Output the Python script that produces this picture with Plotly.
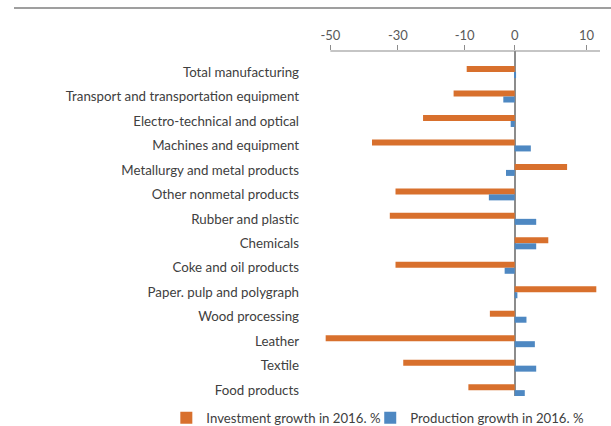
import plotly.graph_objects as go

categories = [
    "Total manufacturing",
    "Transport and transportation equipment",
    "Electro-technical and optical",
    "Machines and equipment",
    "Metallurgy and metal products",
    "Other nonmetal products",
    "Rubber and plastic",
    "Chemicals",
    "Coke and oil products",
    "Paper. pulp and polygraph",
    "Wood processing",
    "Leather",
    "Textile",
    "Food products",
]
investment = [-14.3, -18.2, -27.3, -42.5, 15.6, -35.5, -37.2, 10.0, -35.5, 24.3, -7.4, -56.3, -33.2, -13.8]
production = [0.4, -3.4, -1.2, 4.8, -2.6, -7.7, 6.4, 6.4, -3.0, 0.8, 3.5, 6.0, 6.4, 3.0]

tick_vals = [-54.9, -34.8, -14.9, 0, 21.4]
tick_text = ["-50", "-30", "-10", "0", "10"]

FONT = "Lato"
ORANGE = "#D8702D"
BLUE = "#4E88C2"

fig = go.Figure()
fig.add_trace(go.Bar(y=categories, x=investment, orientation="h", name="Investment growth in 2016. %",
                     marker=dict(color=ORANGE, line=dict(width=0)), legend="legend", showlegend=True))
fig.add_trace(go.Bar(y=categories, x=production, orientation="h", name="Production growth in 2016. %",
                     marker=dict(color=BLUE, line=dict(width=0)), legend="legend2", showlegend=True))

legend_common = dict(orientation="h", xanchor="left", y=-0.064, yanchor="middle",
                     font=dict(size=13.2, color="#404040"), itemwidth=30,
                     bgcolor="rgba(0,0,0,0)")

fig.update_layout(
    width=611, height=426,
    showlegend=True,
    margin=dict(l=325, r=11, t=51, b=30, autoexpand=False),
    paper_bgcolor="white", plot_bgcolor="white",
    barmode="group", bargap=0.51, bargroupgap=0,
    font=dict(family=FONT, size=13, color="#404040"),
    legend=dict(x=-0.577, **legend_common),
    legend2=dict(x=0.1645, **legend_common),
    xaxis=dict(side="top", range=[-56.5, 25.4], tickvals=tick_vals, ticktext=tick_text,
               showgrid=False, showline=False, ticks="outside", ticklen=5, tickcolor="#8c8c8c",
               zeroline=True, zerolinecolor="#8c8c8c", zerolinewidth=2,
               tickfont=dict(size=13, color="#595959")),
    yaxis=dict(type="category", range=[13.24, -0.86], showgrid=False, showline=False,
               ticks="", ticklabelstandoff=25, tickfont=dict(size=13.3, color="#404040")),
    shapes=[
        dict(type="line", xref="x", yref="paper", x0=-54.9, x1=25.4, y0=1, y1=1,
             line=dict(color="#8c8c8c", width=1.2)),
        dict(type="line", xref="paper", yref="paper", x0=-1.131, x1=1.04, y0=1.1246, y1=1.1246,
             line=dict(color="#7f7f7f", width=1.5)),
    ],
)

fig.write_html("out.html")
